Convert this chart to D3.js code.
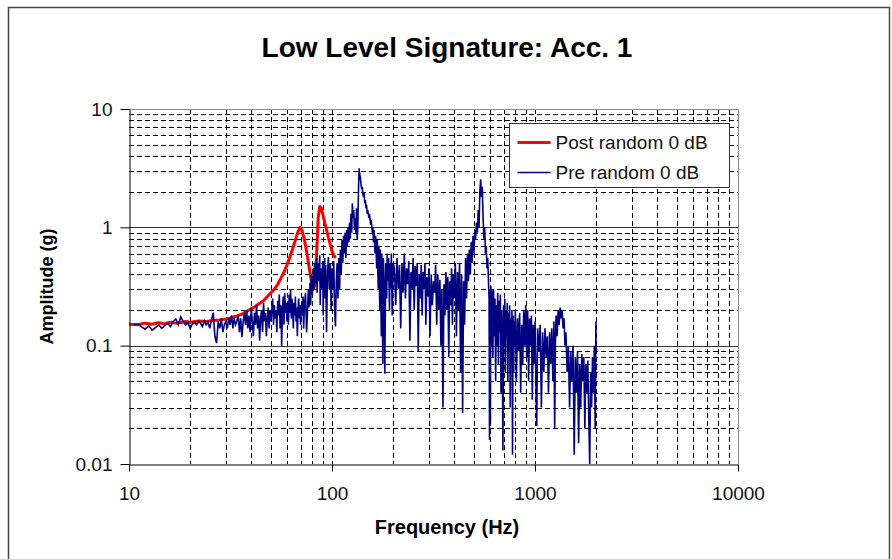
<!DOCTYPE html>
<html>
<head>
<meta charset="utf-8">
<script src="https://cdn.jsdelivr.net/npm/d3@7"></script>
<style>
  body{margin:0;background:#fff;}
  text{font-family:Arial,"Liberation Sans",sans-serif;}
</style>
</head>
<body>
<svg></svg>
<script>
var width = 892;
var height = 559;

// tick labels
var xTickValues = [10, 100, 1000, 10000];
var xTickLabels = ["10", "100", "1000", "10000"];
var yTickValues = [10, 1, 0.1, 0.01];
var yTickLabels = ["10", "1", "0.1", "0.01"];

var seriesNames = ["Post random 0 dB", "Pre random 0 dB"];

// Post random 0 dB  [frequency Hz, amplitude g]
var postRandom = [
 [10,.152],[11,.150],[12,.155],[13,.152],[14,.156],[15,.153],[16,.158],[17,.155],[18,.157],[19,.160],
 [20,.158],[22,.162],[24,.160],[26,.163],[28,.165],[30,.168],[32,.172],[34,.178],[36,.185],[38,.195],
 [40,.205],[42,.215],[44,.228],[46,.24],[48,.26],[50,.28],[52,.30],[54,.33],[56,.37],[58,.42],
 [60,.48],[62,.56],[64,.66],[66,.78],[68,.92],[69.5,1.0],[71,.95],[73,.8],[75,.62],[77,.47],
 [79,.36],[81,.30],[82.5,.33],[84,.6],[85.5,1.2],[87,1.5],[88.5,1.45],[90,1.3],[92,1.1],[94,.95],
 [96,.82],[98,.72],[100,.63],[102,.58],[104,.55]
];

// Pre random 0 dB  [frequency Hz, amplitude g]
var preRandom = [
 [10.5,.150],[11,.152],[11.5,.145],[12,.138],[12.5,.147],[13,.135],[13.5,.142],[14,.150],[14.5,.140],[15,.148],
 [15.5,.155],[16,.145],[16.5,.160],[17,.168],[17.5,.150],[18,.175],[18.5,.160],[19,.150],[19.5,.158],[20,.140],
 [20.5,.152],[21,.158],[21.5,.150],[22,.160],[22.5,.155],[23,.145],[23.5,.162],[24,.150],[24.5,.158],[25,.140],
 [25.5,.165],[26,.19],[26.5,.12],[27,.105],[27.5,.16],[28,.14],[28.5,.17],[29,.13],[29.5,.15],[30,.16],
 [30.5,.14],[31,.17],[31.5,.15],[32,.18],[32.5,.14],[33,.17],[33.5,.15],[34,.16],[34.5,.18],[35,.13],
 [35.5,.17],[36,.118],[36.5,.16],[37,.19],[37.5,.15],[38,.2],[38.5,.14],[39,.18],[39.5,.13],[40,.21],
 [40.5,.16],[41,.12],[41.5,.19],[42,.15],[42.5,.22],[43,.14],[43.5,.18],[44,.11],[44.5,.17],[45,.2],
 [45.5,.13],[46,.23],[46.5,.16],[47,.19],[47.5,.12],[48,.17],[48.5,.21],[49,.14],[49.5,.2],[50,.16],
 [51,.25],[51.5,.15],[52,.22],[52.5,.17],[53,.2],[53.5,.13],[54,.24],[54.5,.18],[55,.27],[55.5,.14],
 [56,.22],[56.5,.1],[57,.2],[57.5,.26],[58,.15],[58.5,.28],[59,.19],[59.5,.23],[60,.16],[60.5,.24],
 [61,.15],[61.5,.27],[62,.19],[62.5,.3],[63,.17],[63.5,.25],[64,.2],[64.5,.14],[65,.23],[65.5,.18],
 [66,.26],[66.5,.16],[67,.21],[67.5,.12],[68,.2],[68.5,.25],[69,.17],[69.5,.22],[70,.15],[71,.24],
 [71.5,.18],[72,.26],[72.5,.14],[73,.2],[74,.28],[74.5,.19],[75,.13],[76,.23],[76.5,.3],[77,.21],
 [78,.34],[78.5,.22],[79,.4],[80,.27],[81,.45],[81.5,.3],[82,.5],[83,.33],[84,.55],[84.5,.28],
 [85,.5],[86,.35],[87,.58],[87.5,.22],[88,.45],[89,.3],[90,.52],[90.5,.18],[91,.4],[92,.55],
 [92.5,.25],[93,.48],[94,.13],[95,.42],[96,.56],[97,.3],[98,.5],[99,.2],[100,.45],[101,.3],
 [102,.52],[103,.2],[104,.145],[105,.35],[106,.5],[107,.25],[108,.55],[109,.3],[110,.65],[111,.4],
 [112,.78],[113,.5],[114,.85],[115,.6],[116,.9],[117,.55],[118,.95],[119,.7],[120,1.0],[121,.75],
 [122,1.1],[123,.8],[124,1.3],[125,.9],[126,1.6],[127,1.2],[128,1.4],[129,.95],[130,1.2],[131,.9],
 [132,1.45],[133,.78],[134,1.0],[135,2.0],[136,3.15],[137,2.8],[138,2.6],[139,2.3],[140,2.1],[141,2.2],
 [142,1.9],[143,1.8],[144,1.95],[145,1.6],[146,1.7],[147,1.45],[148,1.55],[149,1.3],[150,1.4],[152,1.2],
 [153,1.3],[155,1.05],[156,1.15],[158,.9],[159,1.0],[160,.75],[161,.95],[163,.6],[164,.85],[166,.45],
 [167,.8],[169,.3],[170,.7],[172,.2],[173,.65],[175,.12],[176,.6],[178,.07],[179,.55],[181,.3],
 [182,.058],[184,.5],[186,.25],[187,.6],[189,.35],[190,.55],[192,.2],[193,.5],[195,.3],[196,.6],
 [198,.18],[200,.5],[203,.45],[206,.22],[209,.55],[212,.3],[215,.48],[218,.14],[221,.5],[224,.28],
 [227,.6],[230,.25],[233,.45],[236,.33],[239,.52],[242,.11],[245,.42],[248,.3],[251,.55],[254,.2],
 [257,.47],[260,.32],[263,.5],[266,.09],[269,.4],[272,.25],[275,.48],[278,.18],[281,.42],[284,.3],
 [287,.5],[290,.15],[293,.38],[296,.26],[300,.45],[304,.12],[308,.4],[312,.22],[316,.35],[320,.28],
 [324,.48],[328,.15],[332,.4],[336,.2],[340,.36],[344,.1],[348,.3],[352,.03],[356,.33],[360,.18],
 [364,.42],[368,.2],[372,.38],[376,.08],[380,.35],[384,.22],[388,.45],[392,.15],[396,.4],[400,.25],
 [405,.5],[410,.12],[415,.42],[420,.2],[425,.5],[430,.06],[435,.4],[440,.027],[445,.35],[450,.15],
 [455,.55],[460,.25],[465,.6],[470,.35],[475,.65],[480,.4],[485,.75],[490,.5],[495,.85],[500,.6],
 [505,.95],[510,.8],[515,1.1],[520,.9],[525,1.4],[530,1.0],[535,2.0],[540,2.55],[545,1.8],[550,2.2],
 [555,1.2],[560,.8],[565,1.0],[570,.6],[575,.7],[580,.45],[585,.55],[590,.35],[594,.25],[597,.016],
 [600,.3],[603,.022],[606,.32],[609,.1],[612,.3],[615,.26],[620,.08],[625,.3],[630,.12],[635,.25],
 [640,.05],[645,.22],[650,.1],[655,.28],[660,.07],[665,.24],[670,.13],[675,.27],[680,.04],[685,.2],
 [690,.09],[695,.013],[700,.22],[705,.1],[710,.25],[715,.06],[720,.2],[725,.12],[730,.23],[735,.05],
 [740,.19],[745,.09],[750,.22],[755,.03],[760,.17],[765,.08],[770,.2],[775,.012],[780,.18],[785,.06],
 [790,.16],[795,.1],[800,.2],[810,.05],[820,.17],[830,.09],[840,.19],[850,.04],[860,.15],[870,.07],
 [880,.2],[890,.1],[900,.22],[910,.08],[920,.2],[930,.05],[940,.17],[950,.1],[960,.18],[970,.035],
 [980,.15],[990,.07],[1000,.16],[1010,.05],[1020,.021],[1030,.14],[1045,.09],[1060,.15],[1075,.03],[1090,.13],
 [1105,.06],[1120,.14],[1135,.08],[1150,.12],[1165,.04],[1180,.13],[1195,.07],[1210,.14],[1225,.05],[1240,.16],
 [1250,.02],[1260,.1],[1270,.18],[1285,.12],[1300,.2],[1315,.15],[1330,.21],[1345,.17],[1360,.2],[1375,.14],
 [1390,.17],[1405,.1],[1420,.13],[1440,.06],[1460,.1],[1480,.03],[1500,.09],[1520,.05],[1540,.1],[1560,.012],
 [1580,.08],[1600,.04],[1620,.09],[1640,.015],[1660,.07],[1680,.03],[1700,.085],[1720,.05],[1740,.08],[1760,.02],
 [1780,.07],[1800,.04],[1820,.075],[1840,.025],[1860,.01],[1880,.06],[1900,.03],[1920,.08],[1940,.04],[1960,.1],
 [1980,.02],[1995,.16],[2000,.09]
];

var seriesColors = ["#ff0000", "#000080"];

var plotLeft = 129, plotRight = 738, plotTop = 109, plotBottom = 464;

var x = d3.scaleLog().domain([10, 10000]).range([plotLeft, plotRight]);
var y = d3.scaleLog().domain([0.01, 10]).range([plotBottom, plotTop]);

var svg = d3.select("svg")
    .attr("width", width)
    .attr("height", height);

svg.append("rect")
    .attr("width", width).attr("height", height)
    .attr("fill", "#fff");

// outer chart frame
svg.append("rect")
    .attr("x", 8.5).attr("y", 7.5)
    .attr("width", 881).attr("height", 570)
    .attr("fill", "none")
    .attr("stroke", "#444")
    .attr("stroke-width", 1.5);

// grid
var grid = svg.append("g");

grid.selectAll(".vgrid")
    .data(x.ticks().filter(d => d > 10 && d < 10000))
  .enter().append("line")
    .attr("x1", d => Math.round(x(d)) + 0.5)
    .attr("x2", d => Math.round(x(d)) + 0.5)
    .attr("y1", plotTop).attr("y2", plotBottom)
    .attr("stroke", "#000")
    .attr("stroke-dasharray", "5,3");

grid.selectAll(".hgrid")
    .data(y.ticks().filter(d => d > 0.011 && d < 9.9))
  .enter().append("line")
    .attr("x1", plotLeft).attr("x2", plotRight)
    .attr("y1", d => Math.round(y(d)) + 0.5)
    .attr("y2", d => Math.round(y(d)) + 0.5)
    .attr("stroke", d => yTickValues.some(v => Math.abs(v - d) < 1e-9) ? "#333" : "#000")
    .attr("stroke-dasharray", d => yTickValues.some(v => Math.abs(v - d) < 1e-9) ? null : "5,3");

// plot frame top / right
svg.append("path")
    .attr("d", "M" + plotLeft + "," + (plotTop + 0.5) + "H" + (plotRight + 0.5) + "V" + plotBottom)
    .attr("fill", "none")
    .attr("stroke", "#888");

// series
svg.append("clipPath").attr("id", "clip")
  .append("rect")
    .attr("x", plotLeft).attr("y", plotTop)
    .attr("width", plotRight - plotLeft).attr("height", plotBottom - plotTop);

var line = d3.line()
    .x(d => x(d[0]))
    .y(d => y(d[1]));

svg.append("path")
    .datum(postRandom)
    .attr("clip-path", "url(#clip)")
    .attr("d", line)
    .attr("fill", "none")
    .attr("stroke", seriesColors[0])
    .attr("stroke-width", 3)
    .attr("stroke-linejoin", "round");

svg.append("path")
    .datum(preRandom)
    .attr("clip-path", "url(#clip)")
    .attr("d", line)
    .attr("fill", "none")
    .attr("stroke", seriesColors[1])
    .attr("stroke-width", 1.6);

// axes
svg.append("g")
    .attr("transform", "translate(0," + (plotBottom + 0.5) + ")")
    .call(d3.axisBottom(x)
        .tickValues(xTickValues)
        .tickFormat((d, i) => xTickLabels[i])
        .tickSize(7)
        .tickSizeOuter(0)
        .tickPadding(15));

svg.append("g")
    .attr("transform", "translate(" + (plotLeft + 0.5) + ",0)")
    .call(d3.axisLeft(y)
        .tickValues(yTickValues)
        .tickFormat((d, i) => yTickLabels[i])
        .tickSize(9)
        .tickSizeOuter(0)
        .tickPadding(8));

svg.selectAll(".tick text")
    .attr("font-family", "Arial, 'Liberation Sans', sans-serif")
    .attr("font-size", 19)
    .attr("fill", "#111");
svg.selectAll(".domain, .tick line").attr("stroke", "#000");

// titles
svg.append("text")
    .attr("x", 447).attr("y", 57)
    .attr("text-anchor", "middle")
    .attr("font-size", 28)
    .attr("font-weight", "bold")
    .text("Low Level Signature: Acc. 1");

svg.append("text")
    .attr("x", 447).attr("y", 534)
    .attr("text-anchor", "middle")
    .attr("font-size", 20)
    .attr("font-weight", "bold")
    .text("Frequency (Hz)");

svg.append("text")
    .attr("transform", "translate(53," + ((plotTop + plotBottom) / 2) + ") rotate(-90)")
    .attr("text-anchor", "middle")
    .attr("font-size", 18)
    .attr("font-weight", "bold")
    .text("Amplitude (g)");

// legend
var legend = svg.append("g").attr("transform", "translate(509.5,123.5)");
legend.append("rect")
    .attr("width", 220).attr("height", 64)
    .attr("fill", "#fff")
    .attr("stroke", "#333");

var items = legend.selectAll(".item")
    .data(seriesNames)
  .enter().append("g")
    .attr("transform", (d, i) => "translate(0," + (19 + i * 30) + ")");

items.append("line")
    .attr("x1", 8).attr("x2", 41)
    .attr("stroke", (d, i) => seriesColors[i])
    .attr("stroke-width", (d, i) => i === 0 ? 3 : 1.5);

items.append("text")
    .attr("x", 46).attr("dy", "0.36em")
    .attr("font-size", 19)
    .attr("fill", "#111")
    .text(d => d);
</script>
</body>
</html>
